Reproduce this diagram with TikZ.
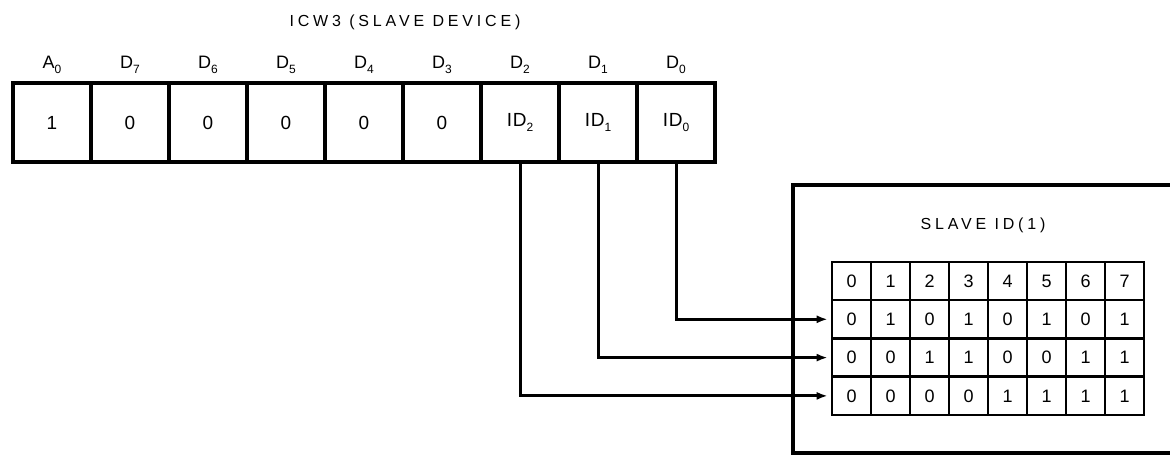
\documentclass[tikz,border=0pt]{standalone}
\usepackage{fontspec}
\setmainfont{Liberation Sans}
\usetikzlibrary{arrows.meta}
\newcommand{\sbs}[1]{\raisebox{-0.55ex}{\fontsize{12}{12}\selectfont #1}}
\begin{document}
\begin{tikzpicture}[x=1pt,y=-1pt,
  regcell/.style={draw, line width=3.4pt, minimum width=78pt, minimum height=79pt, inner sep=0pt, font=\fontsize{19}{19}\selectfont\addfontfeature{LetterSpace=4}},
  gridcell/.style={draw, line width=2.6pt, minimum width=39pt, minimum height=38.3pt, inner sep=0pt, font=\fontsize{18}{18}\selectfont},
  bitlabel/.style={font=\fontsize{18}{18}\selectfont, inner sep=0pt},
  titletext/.style={font=\fontsize{16}{16}\selectfont\addfontfeature{LetterSpace=24}, inner sep=0pt},
  conn/.style={line width=3pt, -{Latex[length=11pt,width=8pt]}, shorten >=3pt},
  boxline/.style={line width=3.2pt}]
\useasboundingbox (0,0) rectangle (1170,455);
% title
\node[titletext] (title) at (405,22) {ICW3 (SLAVE DEVICE)};
% bit labels
\foreach \lab [count=\k from 0] in {A\sbs{0},D\sbs{7},D\sbs{6},D\sbs{5},D\sbs{4},D\sbs{3},D\sbs{2},D\sbs{1},D\sbs{0}}
  \node[bitlabel] (l\k) at (52+78*\k,65) {\lab};
% register cells
\foreach \val [count=\k from 0] in {1,0,0,0,0,0,ID\sbs{2},ID\sbs{1},ID\sbs{0}}
  \node[regcell] (r\k) at (52+78*\k,122.5) {\val};
% slave box
\draw[boxline] (1175,185) -- (793,185) -- (793,453) -- (1175,453);
\node[titletext] (stitle) at (983,225) {SLAVE ID(1)};
% grid
\foreach \row [count=\i from 0] in {{0,1,2,3,4,5,6,7},{0,1,0,1,0,1,0,1},{0,0,1,1,0,0,1,1},{0,0,0,0,1,1,1,1}}
  \foreach \v [count=\j from 0] in \row
    \node[gridcell] (g\i\j) at (851.5+39*\j,281+38.3*\i) {\v};
% connectors
\draw[conn] (r8.south) |- (g10.west);
\draw[conn] (r7.south) |- (g20.west);
\draw[conn] (r6.south) |- (g30.west);
\foreach \i in {1,2,3}
  \fill (793,281+38.3*\i) circle (2.6pt);
\end{tikzpicture}
\end{document}
